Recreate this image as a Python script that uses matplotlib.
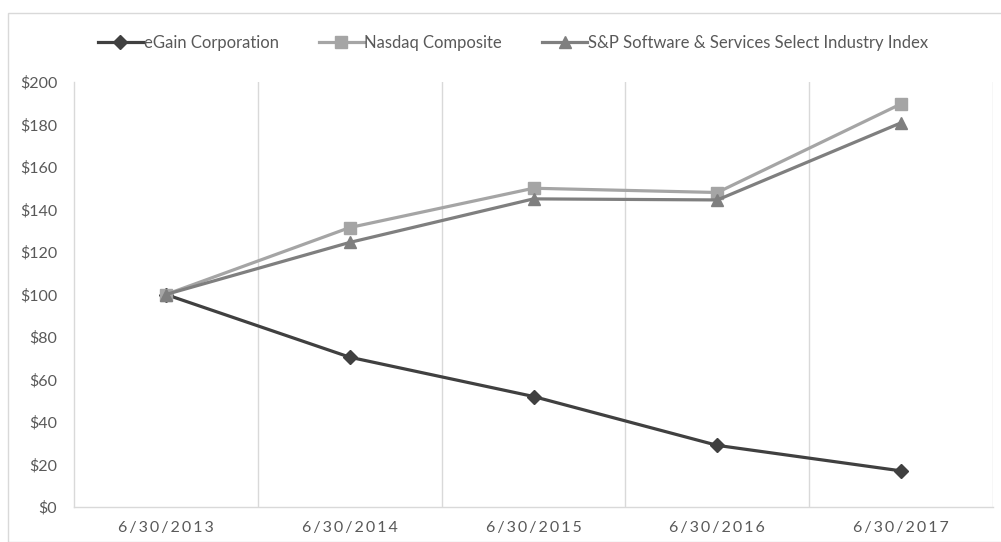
import matplotlib
matplotlib.use("Agg")
import matplotlib.pyplot as plt
from matplotlib.patches import Rectangle

categories = ["6/30/2013", "6/30/2014", "6/30/2015", "6/30/2016", "6/30/2017"]
egain = [100, 70.5, 52, 29, 17]
nasdaq = [100, 131.5, 150, 148, 189.7]
sp_software = [100, 124.5, 145, 144.5, 180.8]
series_names = ["eGain Corporation", "Nasdaq Composite",
                "S&P Software & Services Select Industry Index"]
y_ticks = list(range(0, 201, 20))

plt.rcParams['font.family'] = ['Lato', 'DejaVu Sans']

W, H = 1001, 542
fig = plt.figure(figsize=(W / 100, H / 100), dpi=100)
fig.patch.set_facecolor("white")

# outer chart border
fig.add_artist(Rectangle((8 / W, 0), 1.2, (H - 13) / H, transform=fig.transFigure,
                         fill=False, edgecolor="#D9D9D9", linewidth=1.0))

left, right, bottom, top = 74, 993, 507, 82
ax = fig.add_axes([left / W, (H - bottom) / H, (right - left) / W, (bottom - top) / H])

x = list(range(len(categories)))
ax.plot(x, egain, color="#404040", lw=2.3, marker="D", markersize=7, label=series_names[0])
ax.plot(x, nasdaq, color="#A5A5A5", lw=2.3, marker="s", markersize=8, label=series_names[1])
ax.plot(x, sp_software, color="#7F7F7F", lw=2.3, marker="^", markersize=9, label=series_names[2])

ax.set_xlim(-0.5, len(categories) - 0.5)
ax.set_ylim(0, 200)
ax.set_yticks(y_ticks)
ax.set_yticklabels([f"${v}" for v in y_ticks])
ax.set_xticks(x)
ax.set_xticklabels(["\u2009".join(c) for c in categories])
ax.tick_params(axis="both", length=0, labelsize=11.5, colors="#595959")
ax.tick_params(axis="y", pad=12)
ax.tick_params(axis="x", pad=10)

for b in range(1, len(categories) + 1):
    ax.axvline(b - 0.5, color="#D9D9D9", lw=1.0, zorder=0)

for s in ["top", "right"]:
    ax.spines[s].set_visible(False)
for s in ["left", "bottom"]:
    ax.spines[s].set_color("#D9D9D9")
    ax.spines[s].set_linewidth(1.0)

leg = fig.legend(loc="center", bbox_to_anchor=(513 / W, 1 - 43 / H), ncol=3,
                 frameon=False, fontsize=12, handlelength=2.7, handletextpad=0.05,
                 columnspacing=2.4, labelcolor="#595959")

fig.savefig("out.png", dpi=100, facecolor="white")
